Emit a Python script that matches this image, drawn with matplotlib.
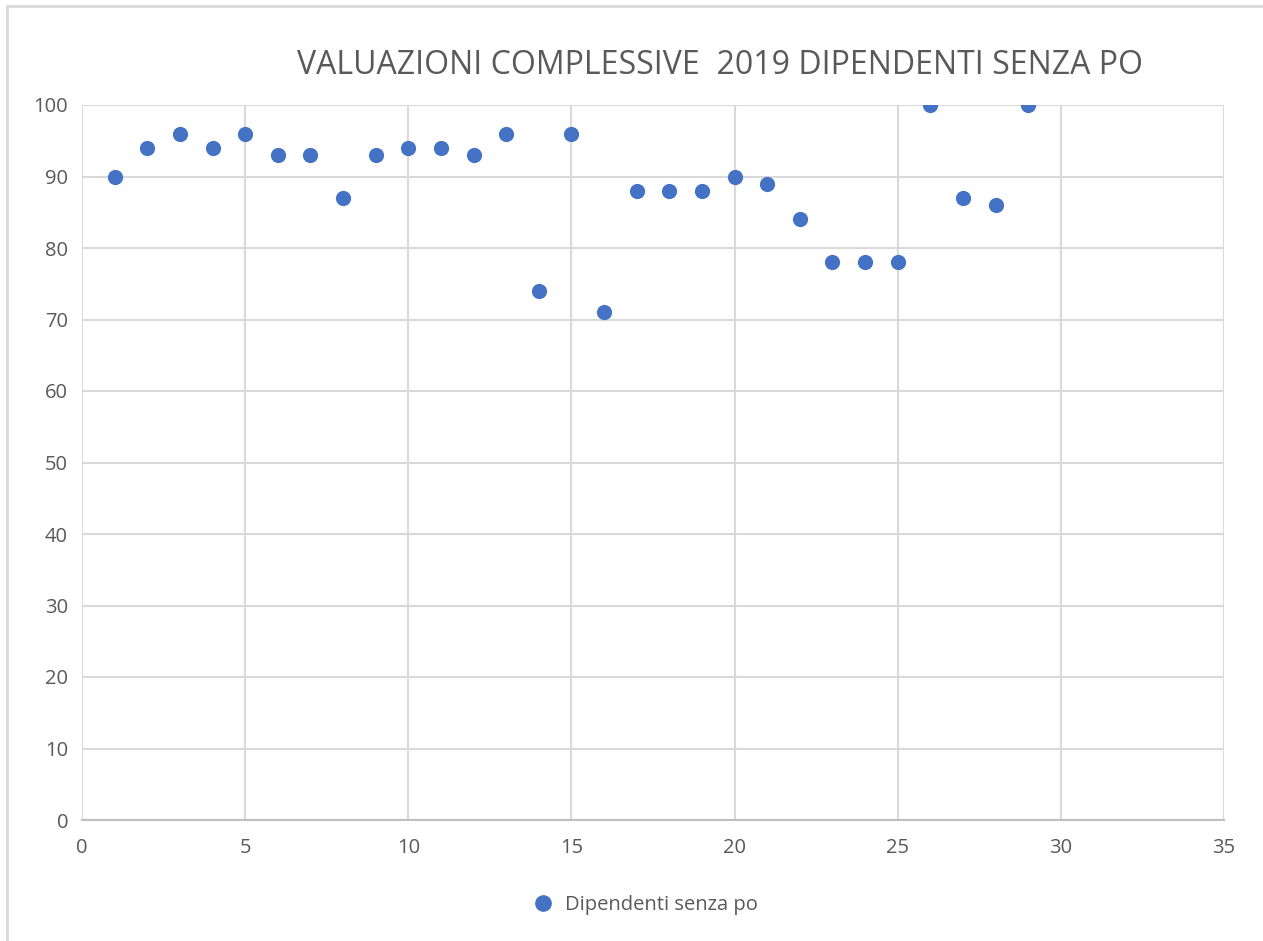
import matplotlib
matplotlib.use('Agg')
import matplotlib.pyplot as plt
from matplotlib.patches import Rectangle
from matplotlib.lines import Line2D

x_vals = list(range(1, 30))
scores = [90, 94, 96, 94, 96, 93, 93, 87, 93, 94, 94, 93, 96, 74, 96,
          71, 88, 88, 88, 90, 89, 84, 78, 78, 78, 100, 87, 86, 100]
title = 'VALUAZIONI COMPLESSIVE  2019 DIPENDENTI SENZA PO'
series_name = 'Dipendenti senza po'

plt.rcParams['font.family'] = ['Open Sans', 'DejaVu Sans']

W, H = 1263, 941
fig = plt.figure(figsize=(W / 100, H / 100), dpi=100)

# chart frame (left and top edges visible, the rest is cropped)
fig.patches.append(Rectangle((7 / W, -0.1), 1.2, 1 - 6 / H + 0.1,
                             transform=fig.transFigure, fill=False,
                             edgecolor='#d9d9d9', linewidth=2))

ax = fig.add_axes([82 / W, 1 - 820 / H, (1224 - 82) / W, (820 - 105) / H])
ax.scatter(x_vals, scores, s=120, color='#4472c4', zorder=3, linewidths=0)

ax.set_xlim(0, 35)
ax.set_ylim(0, 100)
ax.set_xticks(range(0, 36, 5))
ax.set_yticks(range(0, 101, 10))
ax.grid(True, color='#d9d9d9', linewidth=1.5, zorder=0)
for side in ['top', 'right', 'left']:
    ax.spines[side].set_visible(False)
ax.spines['bottom'].set_color('#bfbfbf')
ax.spines['bottom'].set_linewidth(1.5)
ax.tick_params(length=0, labelsize=14.5, labelcolor='#595959', pad=10)
ax.tick_params(axis='x', pad=13)

fig.text(720 / W, 1 - 66 / H, title, ha='center', va='center',
         fontsize=23, color='#595959')

handle = Line2D([], [], marker='o', linestyle='none', color='#4472c4',
                markersize=11)
fig.legend([handle], [series_name], loc='center', bbox_to_anchor=(640 / W, 1 - 905 / H),
           frameon=False, fontsize=14.5, labelcolor='#595959', handletextpad=0.1)

fig.savefig('out.png', dpi=100)
